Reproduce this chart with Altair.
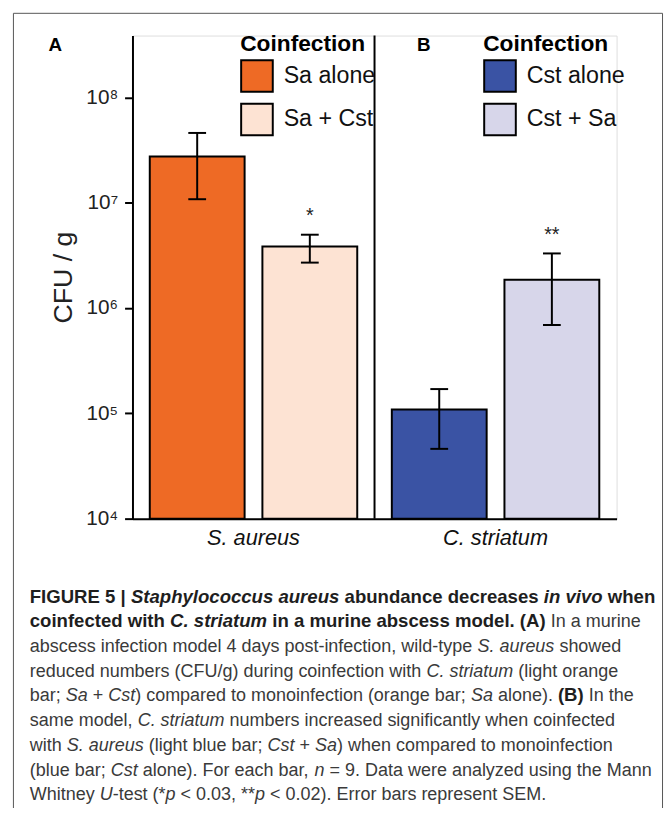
import altair as alt
import pandas as pd

FONT = "Liberation Sans"

# ---------------- data ----------------
groups = ["S. aureus", "S. aureus", "C. striatum", "C. striatum"]
slots = ["first", "second", "first", "second"]
conditions = ["Sa alone", "Sa + Cst", "Cst alone", "Cst + Sa"]
means = [2.75e7, 3.85e6, 1.09e5, 1.86e6]
err_low = [1.08e7, 2.7e6, 4.6e4, 6.9e5]
err_high = [4.6e7, 4.97e6, 1.7e5, 3.3e6]
stars = ["", "*", "", "**"]
group_order = ["S. aureus", "C. striatum"]
y_ticks = [1e4, 1e5, 1e6, 1e7, 1e8]
y_min, y_max = 1e4, 3.87e8
colors_a = ["#EE6A25", "#FDE3D3"]
colors_b = ["#3A53A4", "#D7D6EA"]
panel_labels = ["A", "B"]

caption_lines = [
    [("FIGURE 5 | ", "B"), ("Staphylococcus aureus", "BI"), (" abundance decreases ", "B"), ("in vivo", "BI"), (" when", "B")],
    [("coinfected with ", "B"), ("C. striatum", "BI"), (" in a murine abscess model. (A)", "B"), (" In a murine", "R")],
    [("abscess infection model 4 days post-infection, wild-type ", "R"), ("S. aureus", "I"), (" showed", "R")],
    [("reduced numbers (CFU/g) during coinfection with ", "R"), ("C. striatum", "I"), (" (light orange", "R")],
    [("bar; ", "R"), ("Sa", "I"), (" + ", "R"), ("Cst", "I"), (") compared to monoinfection (orange bar; ", "R"),
     ("Sa", "I"), (" alone). ", "R"), ("(B)", "B"), (" In the", "R")],
    [("same model, ", "R"), ("C. striatum", "I"), (" numbers increased significantly when coinfected", "R")],
    [("with ", "R"), ("S. aureus", "I"), (" (light blue bar; ", "R"), ("Cst", "I"), (" + ", "R"), ("Sa", "I"),
     (") when compared to monoinfection", "R")],
    [("(blue bar; ", "R"), ("Cst", "I"), (" alone). For each bar, ", "R"), ("n", "I"),
     (" = 9. Data were analyzed using the Mann", "R")],
    [("Whitney ", "R"), ("U", "I"), ("-test (*", "R"), ("p", "I"), (" < 0.03, **", "R"), ("p", "I"),
     (" < 0.02). Error bars represent SEM.", "R")],
]

# ---------------- text metrics (Arial / Liberation Sans) ----------------
REG = {" ": 278, "(": 333, ")": 333, "*": 389, "+": 584, ",": 278, "-": 333, ".": 278, "/": 278,
       ":": 278, ";": 278, "<": 584, "=": 584, "|": 260, "'": 191}
BOLD = {" ": 278, "(": 333, ")": 333, "*": 389, "+": 584, ",": 278, "-": 333, ".": 278, "/": 278,
        ":": 333, ";": 333, "<": 584, "=": 584, "|": 280, "'": 238}
for d in "0123456789":
    REG[d] = 556
    BOLD[d] = 556
REG.update(dict(zip("ABCDEFGHIJKLMNOPQRSTUVWXYZ",
                    [667, 667, 722, 722, 667, 611, 778, 722, 278, 500, 667, 556, 833, 722, 778, 667, 778, 722, 667, 611, 722, 667, 944, 667, 667, 611])))
REG.update(dict(zip("abcdefghijklmnopqrstuvwxyz",
                    [556, 556, 500, 556, 556, 278, 556, 556, 222, 222, 500, 222, 833, 556, 556, 556, 556, 333, 500, 278, 556, 500, 722, 500, 500, 500])))
BOLD.update(dict(zip("ABCDEFGHIJKLMNOPQRSTUVWXYZ",
                     [722, 722, 722, 722, 667, 611, 778, 722, 278, 556, 722, 611, 833, 722, 778, 667, 778, 722, 667, 611, 722, 667, 944, 667, 667, 611])))
BOLD.update(dict(zip("abcdefghijklmnopqrstuvwxyz",
                     [556, 611, 556, 611, 556, 333, 611, 611, 278, 278, 556, 278, 889, 611, 611, 611, 611, 389, 556, 333, 611, 556, 778, 556, 556, 500])))

SIZE = {"B": 18.8, "BI": 18.8, "R": 18.2, "I": 18.2}


def text_width(s, style):
    table = BOLD if style.startswith("B") else REG
    return sum(table.get(c, 556) for c in s) * SIZE[style] / 1000.0


# plot origin in page coordinates: (134, 31)
OX, OY = 134, 31
rows = []
for i, line in enumerate(caption_lines):
    x = 30 - OX
    y = 605 + 25 * i - OY
    for seg, style in line:
        lead = len(seg) - len(seg.lstrip(" "))
        x_start = x + text_width(seg[:lead], style)
        txt = seg.strip(" ")
        if txt:
            rows.append({"text": txt, "x": x_start, "y": y, "style": style})
        x += text_width(seg, style)
cap_df = pd.DataFrame(rows)

df = pd.DataFrame({"group": groups, "slot": slots, "cond": conditions, "mean": means,
                   "lo": err_low, "hi": err_high, "star": stars})
df["base"] = y_min

# ---------------- encodings ----------------
x_axis = alt.Axis(title=None, labelFontSize=22, labelFontStyle="italic", labelColor="#111", ticks=False,
                  labelPadding=9, domainColor="black", domainWidth=2, labelAngle=0, labelFont=FONT)


def xenc(**kw):
    return alt.X("group:N", sort=group_order, scale=alt.Scale(paddingInner=0, paddingOuter=0), axis=x_axis, **kw)


xoff = alt.XOffset("slot:N", sort=["first", "second"], scale=alt.Scale(paddingInner=0.158, paddingOuter=0.1535))
yscale = alt.Scale(type="log", domain=[y_min, y_max], nice=False)
y_axis = alt.Axis(title="CFU / g", values=y_ticks,
                  labelExpr="'10' + ['\u2070','\u00b9','\u00b2','\u00b3','\u2074','\u2075','\u2076','\u2077','\u2078','\u2079'][round(log(datum.value)/LN10)]",
                  tickSize=8, tickWidth=2, tickColor="black", domainColor="black", domainWidth=2,
                  labelFontSize=21, labelPadding=7, titleFontSize=27, titleFontWeight="normal",
                  titlePadding=8, grid=False, labelColor="#222", titleColor="#222",
                  labelFont=FONT, titleFont=FONT)


def yenc(field):
    return alt.Y(field, scale=yscale, axis=y_axis)


def legend(lx):
    return alt.Legend(title="Coinfection", orient="none", legendX=lx, legendY=-2,
                      titleFontSize=23, titleFontWeight="bold", titleColor="black", titleFont=FONT,
                      labelFont=FONT, labelFontSize=23.5, labelColor="#111", symbolType="square",
                      symbolSize=1024, symbolStrokeColor="black", symbolStrokeWidth=2, symbolOpacity=1,
                      rowPadding=4, titlePadding=3, labelOffset=10, padding=0)


base = alt.Chart(df)

bars_a = base.transform_filter("datum.group === 'S. aureus'").mark_bar(stroke="black", strokeWidth=2).encode(
    x=xenc(), xOffset=xoff, y=yenc("mean:Q"), y2="base:Q",
    color=alt.Color("cond:N", scale=alt.Scale(domain=conditions[:2], range=colors_a), legend=legend(109)),
)
bars_b = base.transform_filter("datum.group === 'C. striatum'").mark_bar(stroke="black", strokeWidth=2).encode(
    x=xenc(), xOffset=xoff, y=yenc("mean:Q"), y2="base:Q",
    color=alt.Color("cond:N", scale=alt.Scale(domain=conditions[2:], range=colors_b), legend=legend(355)),
)

err = base.mark_rule(color="black", strokeWidth=2).encode(x=xenc(), xOffset=xoff, y=yenc("lo:Q"), y2="hi:Q")
cap_lo = base.mark_tick(color="black", thickness=2, size=18, opacity=1).encode(x=xenc(), xOffset=xoff, y=yenc("lo:Q"))
cap_hi = base.mark_tick(color="black", thickness=2, size=18, opacity=1).encode(x=xenc(), xOffset=xoff, y=yenc("hi:Q"))

star_layer = base.transform_filter("datum.star != ''").mark_text(
    fontSize=20, baseline="alphabetic", dy=-13, font=FONT, color="#222").encode(
    x=xenc(), xOffset=xoff, y=yenc("hi:Q"), text="star:N")

divider = alt.Chart(pd.DataFrame({"group": ["C. striatum"]})).mark_rule(color="black", strokeWidth=2).encode(
    x=xenc(bandPosition=0))

lab_a = alt.Chart(pd.DataFrame({"t": [panel_labels[0]]})).mark_text(
    font=FONT, fontSize=19, fontWeight="bold", align="left", baseline="alphabetic", color="black").encode(
    x=alt.value(49 - OX), y=alt.value(47 - OY), text="t:N")
lab_b = alt.Chart(pd.DataFrame({"t": [panel_labels[1]]})).mark_text(
    font=FONT, fontSize=19, fontWeight="bold", align="left", baseline="alphabetic", color="black").encode(
    x=alt.value(422 - OX), y=alt.value(47 - OY), text="t:N")

one = pd.DataFrame({"k": [1]})
frame_top = alt.Chart(one).mark_rule(color="#555", strokeWidth=1).encode(
    x=alt.value(13.5 - OX), x2=alt.value(670.5 - OX), y=alt.value(8.5 - OY))
frame_left = alt.Chart(one).mark_rule(color="#555", strokeWidth=1).encode(
    x=alt.value(13.5 - OX), y=alt.value(8.5 - OY), y2=alt.value(830 - OY))
frame_right = alt.Chart(one).mark_rule(color="#555", strokeWidth=1).encode(
    x=alt.value(670.5 - OX), y=alt.value(8.5 - OY), y2=alt.value(830 - OY))


def cap_layer(style):
    bold = style.startswith("B")
    ital = style.endswith("I")
    return alt.Chart(cap_df).transform_filter(f"datum.style === '{style}'").mark_text(
        font=FONT, fontSize=SIZE[style], fontWeight="bold" if bold else "normal",
        fontStyle="italic" if ital else "normal", align="left", baseline="alphabetic",
        color="#1e1e1e" if bold else "#3a3a3a").encode(
        x=alt.X("x:Q", scale=None, axis=None), y=alt.Y("y:Q", scale=None, axis=None), text="text:N")


chart = alt.layer(
    bars_a, bars_b, err, cap_lo, cap_hi, star_layer, divider, lab_a, lab_b,
    frame_top, frame_left, frame_right,
    cap_layer("R"), cap_layer("I"), cap_layer("B"), cap_layer("BI"),
).resolve_scale(color="independent").properties(
    width=490, height=489,
    autosize=alt.AutoSizeParams(type="none"),
    padding={"left": 126, "top": 23, "right": 48, "bottom": 288},
).configure_view(stroke=None).configure(font=FONT)

chart.save("out.html", embed_options={"renderer": "svg", "actions": False})
